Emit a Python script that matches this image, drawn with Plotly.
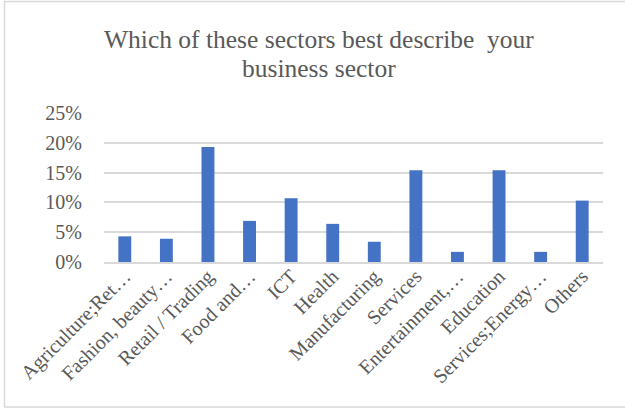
import plotly.graph_objects as go

# Sector shares of respondents (fraction of total)
sectors = [
    "Agriculture;Ret…", "Fashion, beauty…", "Retail / Trading", "Food and…",
    "ICT", "Health", "Manufacturing", "Services", "Entertainment,…",
    "Education", "Services;Energy…", "Others",
]
shares = [0.043, 0.039, 0.193, 0.069, 0.107, 0.064, 0.034, 0.154, 0.017, 0.154, 0.017, 0.103]

y_ticks = [0, 0.05, 0.10, 0.15, 0.20, 0.25]
y_tick_labels = ["0%", "5%", "10%", "15%", "20%", "25%"]

title_lines = ["Which of these sectors best describe  your", "business sector"]

W, H = 625, 409
L, R, T, B = 104, 603, 113, 262  # plot area in pixels
pw, ph = R - L, B - T

def px_x(x):
    return (x - L) / pw

def px_y(y):
    return (B - y) / ph

TEXT = "#595959"
SERIF = "Liberation Serif, Times New Roman, serif"

fig = go.Figure(
    go.Bar(
        x=sectors,
        y=shares,
        marker=dict(color="#4472C4", line=dict(width=0)),
    )
)

fig.update_layout(
    width=W,
    height=H,
    margin=dict(l=L, r=W - R, t=T, b=H - B, autoexpand=False),
    paper_bgcolor="white",
    plot_bgcolor="white",
    bargap=0.69,
    showlegend=False,
    font=dict(family=SERIF, color=TEXT, size=19),
    xaxis=dict(
        automargin=False,
        tickangle=-45,
        showgrid=False,
        showline=True,
        linecolor="#D9D9D9",
        linewidth=1.5,
        ticks="",
        ticklabelstandoff=-7,
        tickfont=dict(size=20, color=TEXT, family=SERIF),
    ),
    yaxis=dict(
        automargin=False,
        range=[0, 0.25],
        tickvals=y_ticks,
        ticktext=y_tick_labels,
        showgrid=True,
        gridcolor="#D9D9D9",
        gridwidth=1.5,
        zeroline=False,
        showline=False,
        ticks="",
        ticklabelstandoff=21,
        tickfont=dict(size=20, color=TEXT, family=SERIF),
    ),
    shapes=[
        dict(
            type="rect", xref="paper", yref="paper",
            x0=px_x(4.5), x1=px_x(640), y0=px_y(407), y1=px_y(1.5),
            line=dict(color="#D9D9D9", width=1.5),
            fillcolor="rgba(0,0,0,0)", layer="below",
        )
    ],
    annotations=[
        dict(
            text=title_lines[0], xref="paper", yref="paper",
            x=px_x(319), y=px_y(40), xanchor="center", yanchor="middle",
            showarrow=False, font=dict(size=25.5, color=TEXT, family=SERIF),
        ),
        dict(
            text=title_lines[1], xref="paper", yref="paper",
            x=px_x(319), y=px_y(68), xanchor="center", yanchor="middle",
            showarrow=False, font=dict(size=25.5, color=TEXT, family=SERIF),
        ),
    ],
)

fig.write_html("out.html")
